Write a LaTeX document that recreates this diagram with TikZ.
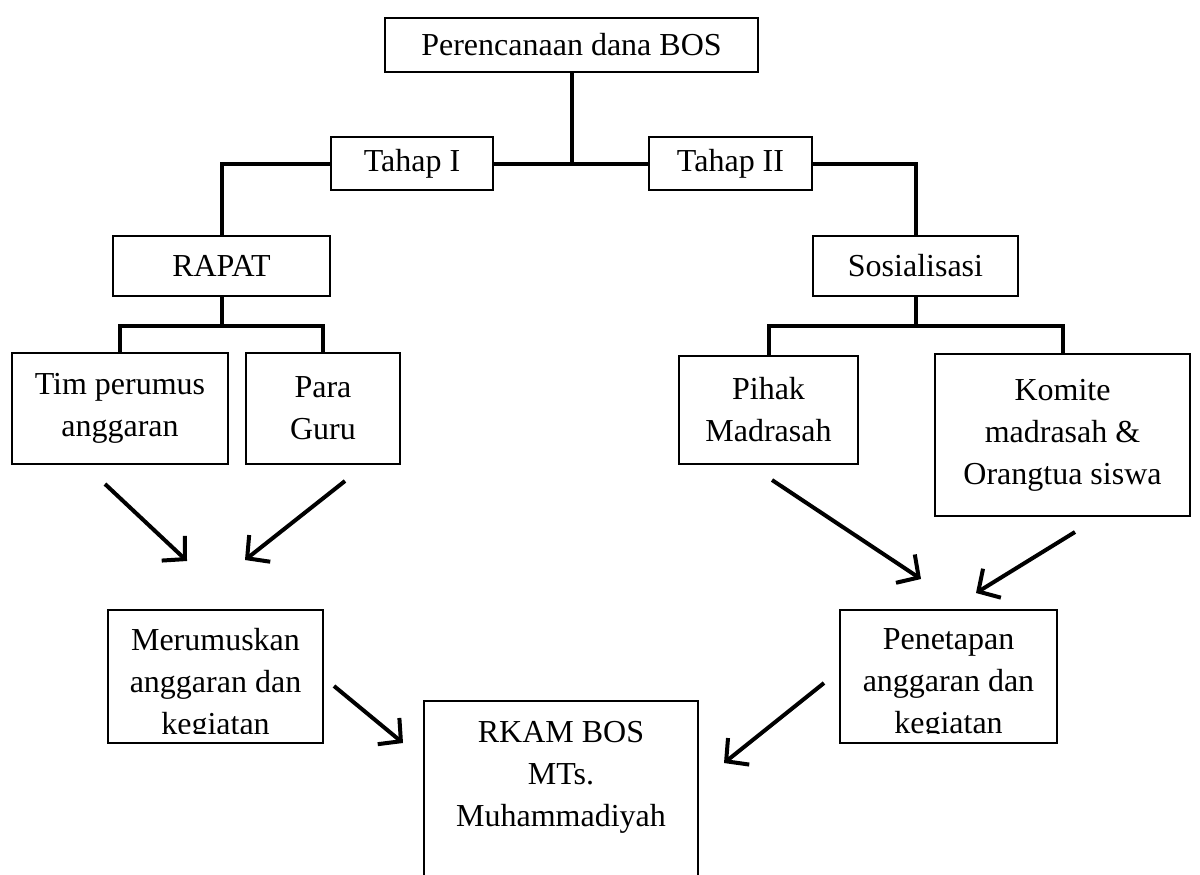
\documentclass[tikz,border=0pt]{standalone}
\usepackage{fontspec}
\setmainfont{Liberation Serif}
\usetikzlibrary{positioning, calc}
\usetikzlibrary{arrows.meta}

\tikzset{
  box/.style={draw, line width=0.7pt, inner sep=0pt, align=center, font=\fontsize{16}{21}\selectfont},
  txt/.style={inner sep=0pt, align=center, font=\fontsize{16}{21}\selectfont},
  link/.style={line width=2pt},
  flow/.style={line width=2pt, -{Straight Barb[length=8pt,width=17pt]}}
}

\begin{document}
\begin{tikzpicture}[x=0.5pt, y=-0.5pt]
            \useasboundingbox (0,0) rectangle (1200,874);
            \clip (0,0) rectangle (1200,874);
            \node[box, minimum width=186.5pt, minimum height=27pt] (top) at (571.5,45) {Perencanaan dana BOS};
            \node[box, minimum width=81pt, minimum height=26.5pt] (t1) at (412,163.5) {Tahap I};
            \node[box, minimum width=81.5pt, minimum height=26.5pt] (t2) at (730.5,163.5) {Tahap II};
            \node[box, minimum width=108.5pt, minimum height=30pt] (rapat) at (221.5,266) {RAPAT};
            \node[box, minimum width=102.5pt, minimum height=30pt] (sos) at (915.5,266) {Sosialisasi};
            \node[box, minimum width=108pt, minimum height=55.5pt] (tim) at (120,408.5) {Tim perumus\\anggaran};
            \node[box, minimum width=77pt, minimum height=55.5pt] (guru) at (323,408.5) {Para\\Guru};
            \node[box, minimum width=89.5pt, minimum height=54pt] (pihak) at (768.5,410) {Pihak\\Madrasah};
            \node[box, minimum width=127.5pt, minimum height=81pt] (komite) at (1062.5,435) {Komite\\madrasah \&\\Orangtua siswa};
            \node[box, minimum width=107.5pt, minimum height=66.5pt] (merum) at (215.5,676.5) {};
            \node[box, minimum width=108.5pt, minimum height=66.5pt] (penet) at (948.5,676.5) {};
            \node[box, minimum width=137pt, minimum height=100pt] (rkam) at (561,801) {};

            \begin{scope}
                \clip (merum.north west) rectangle ($(merum.south east)+(0,-10)$);
                \node[txt, anchor=north] (merumtxt) at ($(merum.north)+(0,19)$) {Merumuskan\\anggaran dan\\kegiatan};
            \end{scope}
            \begin{scope}
                \clip (penet.north west) rectangle ($(penet.south east)+(0,-10)$);
                \node[txt, anchor=north] (penettxt) at ($(penet.north)+(0,19)$) {Penetapan\\anggaran dan\\kegiatan};
            \end{scope}
            \node[txt, anchor=north] (rkamtxt) at ($(rkam.north)+(0,21)$) {RKAM BOS\\MTs.\\Muhammadiyah};

            \draw[link] (top.south) -- (top.south |- t1.east);
            \draw[link] (rapat.north) |- (t1.west);
            \draw[link] (t1.east) -- (t2.west);
            \draw[link] (t2.east) -| (sos.north);

            \coordinate (rb) at (221.5,326);
            \coordinate (sb) at (915.5,326);
            \draw[link] (rapat.south) -- (rb);
            \draw[link] (tim.north) |- (rb) -| (guru.north);
            \draw[link] (sos.south) -- (sb);
            \draw[link] (pihak.north) |- (sb) -| (komite.north);

            \coordinate (a1s) at (105,484);
            \coordinate (a1e) at (187,561);
            \coordinate (a2s) at (345,481);
            \coordinate (a2e) at (245,560);
            \coordinate (a3s) at (772,480);
            \coordinate (a3e) at (921,579);
            \coordinate (a4s) at (1075,532);
            \coordinate (a4e) at (976,593);
            \coordinate (a5s) at (334,686);
            \coordinate (a5e) at (403,743);
            \coordinate (a6s) at (824,683);
            \coordinate (a6e) at (724,763);
            \foreach \s/\e in {a1s/a1e, a2s/a2e, a3s/a3e, a4s/a4e, a5s/a5e, a6s/a6e}{
                \draw[flow] (\s) -- (\e);
            }
        \end{tikzpicture}
\end{document}
